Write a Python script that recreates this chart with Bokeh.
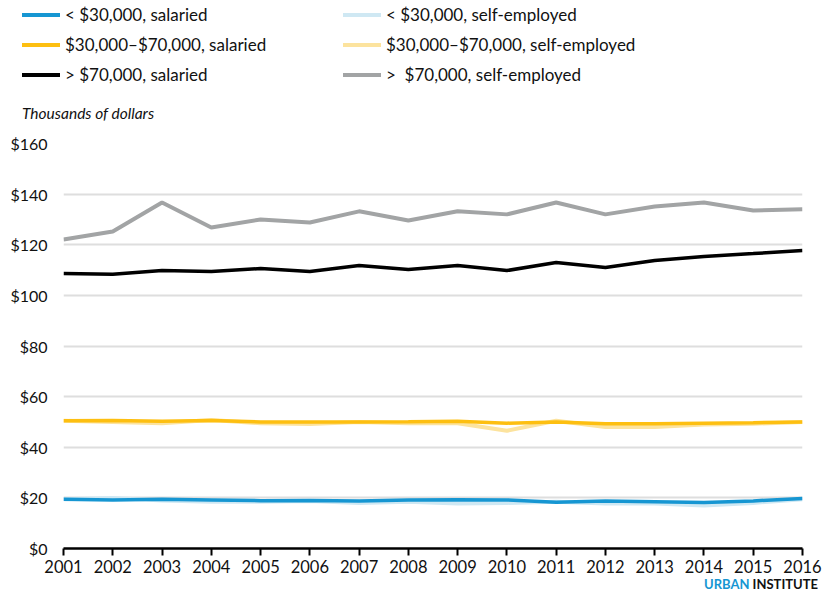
from bokeh.plotting import figure
from bokeh.layouts import column
from bokeh.models import Div, FixedTicker, NumeralTickFormatter, Range1d
from bokeh.embed import file_html
from bokeh.resources import INLINE
import html

years = list(range(2001, 2017))
low_salaried = [19.5, 19.2, 19.5, 19.2, 18.9, 19.0, 18.8, 19.2, 19.3, 19.2, 18.3, 18.8, 18.5, 18.2, 18.8, 19.8]
low_self = [19.5, 20.0, 19.0, 18.5, 18.5, 18.8, 18.0, 18.5, 17.8, 18.0, 18.5, 17.8, 17.8, 17.0, 18.0, 19.5]
mid_salaried = [50.5, 50.6, 50.3, 50.6, 50.0, 50.0, 50.0, 50.1, 50.3, 49.5, 50.0, 49.3, 49.3, 49.5, 49.7, 50.0]
mid_self = [50.5, 50.0, 49.5, 50.8, 49.5, 49.2, 50.0, 49.5, 49.5, 46.5, 50.5, 48.0, 48.0, 49.0, 49.3, 50.0]
high_salaried = [108.6, 108.3, 109.8, 109.4, 110.6, 109.4, 111.8, 110.2, 111.8, 109.8, 113.0, 111.0, 113.8, 115.4, 116.5, 117.7]
high_self = [122.1, 125.2, 136.7, 126.8, 130.0, 128.8, 133.2, 129.6, 133.2, 132.0, 136.7, 132.0, 135.1, 136.7, 133.5, 134.0]

y_ticks = [0, 20, 40, 60, 80, 100, 120, 140, 160]

labels = ["< $30,000, salaried", "< $30,000, self-employed",
          "$30,000–$70,000, salaried", "$30,000–$70,000, self-employed",
          "> $70,000, salaried", ">  $70,000, self-employed"]
colors = ["#1696d2", "#cfe8f3", "#fdbf11", "#fce39e", "#000000", "#a2a4a5"]
y_caption = "Thousands of dollars"

FONT = "Lato"
TEXT = "#111111"
W = 822

# ---------- header: legend (two columns of line swatches) + axis caption ----------
def legend_column(idx, left):
    rows = []
    for i in idx:
        rows.append(
            '<div style="height:30px;display:flex;align-items:center;white-space:pre;">'
            f'<span style="display:inline-block;width:38px;height:4px;background:{colors[i]};'
            'margin-right:5px;"></span>'
            f'{html.escape(labels[i])}</div>')
    return f'<div style="position:absolute;left:{left}px;top:0px;">' + "".join(rows) + '</div>'

header_html = ('<div style="position:relative;width:822px;height:125px;'
               f'font-family:{FONT};font-size:17px;color:{TEXT};">'
               + legend_column([0, 2, 4], 22) + legend_column([1, 3, 5], 343)
               + '<div style="position:absolute;left:22px;top:103px;height:20px;line-height:20px;'
               f'font-size:15.5px;font-style:italic;">{html.escape(y_caption)}</div>'
               + '</div>')
head = Div(text=header_html, width=W, height=125, margin=0)

# ---------- main chart ----------
p = figure(width=W, height=451, output_backend="svg", toolbar_location=None,
           x_range=Range1d(2001, 2016), y_range=Range1d(0, 160),
           min_border_left=63, min_border_right=20, min_border_top=18, min_border_bottom=28)
p.outline_line_color = None

p.line(years, low_self, line_color=colors[1], line_width=4)
p.line(years, mid_self, line_color=colors[3], line_width=4)
p.line(years, high_self, line_color=colors[5], line_width=4)
p.line(years, low_salaried, line_color=colors[0], line_width=3.5)
p.line(years, mid_salaried, line_color=colors[2], line_width=3.5)
p.line(years, high_salaried, line_color=colors[4], line_width=3.5)

p.yaxis.ticker = FixedTicker(ticks=y_ticks)
p.yaxis.formatter = NumeralTickFormatter(format="$0")
p.yaxis.axis_line_color = None
p.yaxis.major_tick_line_color = None
p.yaxis.minor_tick_line_color = None
p.yaxis.major_label_text_font = FONT
p.yaxis.major_label_text_font_size = "16px"
p.yaxis.major_label_text_color = TEXT
p.yaxis.major_label_standoff = 10

p.xaxis.ticker = FixedTicker(ticks=years)
p.xaxis.axis_line_color = "black"
p.xaxis.axis_line_width = 2.5
p.xaxis.major_tick_line_color = "black"
p.xaxis.major_tick_line_width = 2
p.xaxis.major_tick_in = 0
p.xaxis.major_tick_out = 7
p.xaxis.minor_tick_line_color = None
p.xaxis.major_label_text_font = FONT
p.xaxis.major_label_text_font_size = "16.5px"
p.xaxis.major_label_text_color = TEXT
p.xaxis.major_label_standoff = 4

p.xgrid.grid_line_color = None
p.ygrid.grid_line_color = "#dedede"
p.ygrid.grid_line_width = 2

# ---------- footer ----------
foot = Div(text='<span style="color:#1696d2">URBAN</span> INSTITUTE', width=W, height=17, margin=0,
           styles={"text-align": "right", "font-family": FONT, "font-weight": "bold",
                   "font-size": "13px", "line-height": "17px", "color": TEXT,
                   "padding-right": "4px", "box-sizing": "border-box"})

layout = column(head, p, foot, spacing=0)
open("out.html", "w").write(file_html(layout, INLINE))
